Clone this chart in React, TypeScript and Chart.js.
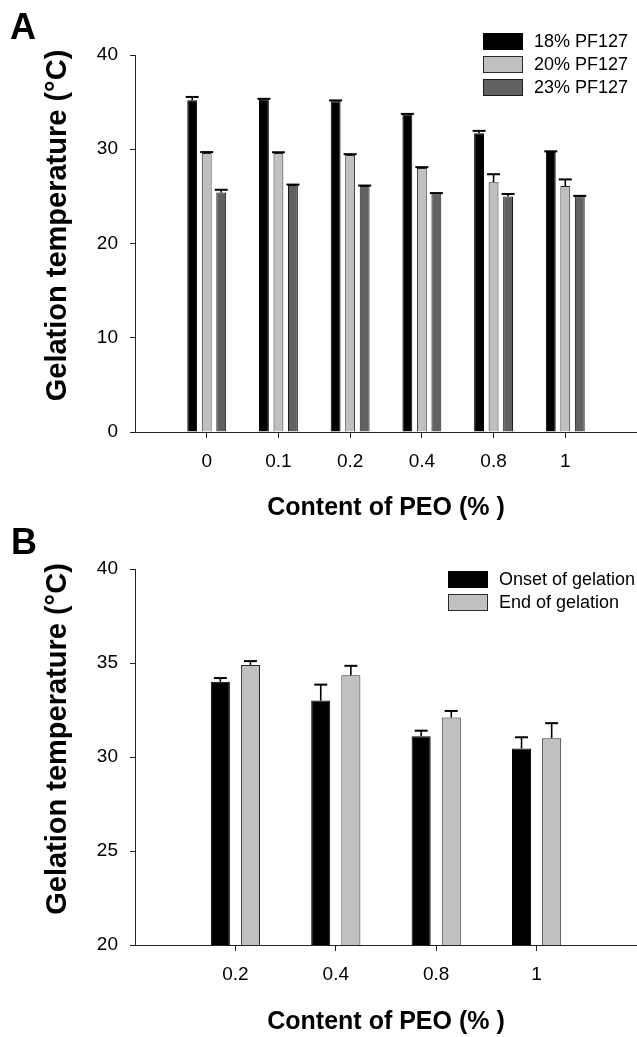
import React, { useEffect, useRef } from 'react';
import { Chart, registerables } from 'chart.js';

Chart.register(...registerables);

const FONT = '"Liberation Sans", Arial, Helvetica, sans-serif';

// ---- Panel A data ----
const categoriesA = ['0', '0.1', '0.2', '0.4', '0.8', '1'];
const pf18 = [35.2, 35.3, 35.1, 33.7, 31.7, 29.7];
const pf18Err = [0.35, 0.05, 0.08, 0.05, 0.25, 0.08];
const pf20 = [29.6, 29.6, 29.4, 28.0, 26.5, 26.1];
const pf20Err = [0.1, 0.08, 0.08, 0.1, 0.85, 0.7];
const pf23 = [25.4, 26.2, 26.1, 25.3, 25.0, 25.0];
const pf23Err = [0.3, 0.05, 0.05, 0.05, 0.25, 0.05];
const yTicksA = [0, 10, 20, 30, 40];

// ---- Panel B data ----
const categoriesB = ['0.2', '0.4', '0.8', '1'];
const onset = [34.0, 33.0, 31.1, 30.45];
const onsetErr = [0.2, 0.85, 0.3, 0.6];
const endGel = [34.9, 34.35, 32.1, 31.0];
const endGelErr = [0.2, 0.5, 0.35, 0.8];
const yTicksB = [20, 25, 30, 35, 40];

const xTitle = 'Content of PEO (% )';
const yTitle = 'Gelation temperature (°C)';

const pad = (arr: any[]) => [null, ...arr, null];

const errorBarPlugin = {
  id: 'errorBars',
  afterDatasetsDraw(chart: any) {
    const ctx = chart.ctx;
    const y = chart.scales.y;
    chart.data.datasets.forEach((ds: any, i: number) => {
      const meta = chart.getDatasetMeta(i);
      const errs = ds.errors;
      if (!errs) return;
      meta.data.forEach((el: any, j: number) => {
        const v = ds.data[j];
        const e = errs[j];
        if (v == null || e == null) return;
        const top = y.getPixelForValue(v + e);
        ctx.save();
        ctx.strokeStyle = '#000';
        ctx.lineWidth = 1.6;
        ctx.beginPath();
        ctx.moveTo(el.x, el.y);
        ctx.lineTo(el.x, top);
        ctx.stroke();
        ctx.lineWidth = 2;
        ctx.beginPath();
        ctx.moveTo(el.x - 6.5, top);
        ctx.lineTo(el.x + 6.5, top);
        ctx.stroke();
        ctx.restore();
      });
    });
  },
};

const decorPlugin = {
  id: 'decor',
  afterDraw(chart: any, _args: any, opts: any) {
    const ctx = chart.ctx;
    const area = chart.chartArea;
    ctx.save();
    // panel letter
    ctx.fillStyle = '#000';
    ctx.font = `bold 36px ${FONT}`;
    ctx.textAlign = 'left';
    ctx.textBaseline = 'alphabetic';
    ctx.fillText(opts.letter, opts.letterX, opts.letterY);
    // y title
    ctx.save();
    ctx.translate(opts.yTitleX, (area.top + area.bottom) / 2 + opts.yTitleShift);
    ctx.rotate(-Math.PI / 2);
    ctx.font = `bold 29px ${FONT}`;
    ctx.textAlign = 'center';
    ctx.textBaseline = 'middle';
    ctx.fillText(yTitle, 0, 0);
    ctx.restore();
    // legend
    ctx.font = `18px ${FONT}`;
    ctx.textAlign = 'left';
    ctx.textBaseline = 'middle';
    chart.data.datasets.forEach((ds: any, i: number) => {
      const bx = opts.legendX;
      const by = opts.legendY + i * 23;
      ctx.fillStyle = ds.backgroundColor;
      ctx.fillRect(bx, by, 40, 17);
      ctx.strokeStyle = ds.borderColor;
      ctx.lineWidth = 1;
      ctx.strokeRect(bx + 0.5, by + 0.5, 39, 16);
      ctx.fillStyle = '#000';
      ctx.fillText(ds.label, bx + 51, by + 9);
    });
    ctx.restore();
  },
};

function makeOptions(opts: {
  yMin: number;
  yMax: number;
  yTicks: number[];
  padTop: number;
  xHeight: number;
  cp: number;
  bp: number;
  decor: any;
}) {
  return {
    animation: false,
    responsive: false,
    maintainAspectRatio: false,
    layout: { padding: { left: 0, right: 0, top: opts.padTop, bottom: 0 } },
    datasets: { bar: { categoryPercentage: opts.cp, barPercentage: opts.bp } },
    plugins: {
      legend: { display: false },
      tooltip: { enabled: false },
      decor: opts.decor,
    },
    scales: {
      x: {
        type: 'category',
        offset: false,
        grid: {
          offset: false,
          drawOnChartArea: false,
          drawTicks: true,
          tickLength: 6,
          lineWidth: 1,
          color: (c: any) => {
            const n = c.chart.data.labels.length;
            return c.index === 0 || c.index === n - 1 ? 'rgba(0,0,0,0)' : '#222';
          },
        },
        border: { display: true, color: '#222', width: 1 },
        ticks: {
          padding: 0,
          color: '#000',
          font: { family: FONT, size: 19, lineHeight: '48px' },
          maxRotation: 0,
          autoSkip: false,
        },
        title: {
          display: true,
          text: xTitle,
          color: '#000',
          font: { family: FONT, size: 25, weight: 'bold' },
          padding: { top: 0, bottom: 0 },
        },
        afterFit: (s: any) => {
          s.height = opts.xHeight;
        },
      },
      y: {
        min: opts.yMin,
        max: opts.yMax,
        grid: {
          drawOnChartArea: false,
          drawTicks: true,
          tickLength: 5,
          color: '#222',
          lineWidth: 1,
        },
        border: { display: true, color: '#222', width: 1 },
        ticks: {
          padding: 12,
          color: '#000',
          font: { family: FONT, size: 19 },
        },
        afterBuildTicks: (s: any) => {
          s.ticks = opts.yTicks.map((v) => ({ value: v }));
        },
        afterFit: (s: any) => {
          s.width = 135;
        },
      },
    },
  };
}

export default function App() {
  const refA = useRef<HTMLCanvasElement>(null);
  const refB = useRef<HTMLCanvasElement>(null);

  useEffect(() => {
    document.body.style.margin = '0';
    const chartA = new Chart(refA.current as HTMLCanvasElement, {
      type: 'bar',
      data: {
        labels: ['', ...categoriesA, ''],
        datasets: [
          { label: '18% PF127', data: pad(pf18), errors: pad(pf18Err), backgroundColor: '#000000', borderColor: '#000000', borderWidth: 1 } as any,
          { label: '20% PF127', data: pad(pf20), errors: pad(pf20Err), backgroundColor: '#c0c0c0', borderColor: '#2a2a2a', borderWidth: 1 } as any,
          { label: '23% PF127', data: pad(pf23), errors: pad(pf23Err), backgroundColor: '#616161', borderColor: '#1a1a1a', borderWidth: 1 } as any,
        ],
      },
      options: makeOptions({
        yMin: 0,
        yMax: 40,
        yTicks: yTicksA,
        padTop: 55,
        xHeight: 91,
        cp: 0.607,
        bp: 0.68,
        decor: { letter: 'A', letterX: 10, letterY: 39, yTitleX: 58, yTitleShift: -18, legendX: 483, legendY: 33 },
      }) as any,
      plugins: [errorBarPlugin, decorPlugin],
    });
    const chartB = new Chart(refB.current as HTMLCanvasElement, {
      type: 'bar',
      data: {
        labels: ['', ...categoriesB, ''],
        datasets: [
          { label: 'Onset of gelation', data: pad(onset), errors: pad(onsetErr), backgroundColor: '#000000', borderColor: '#000000', borderWidth: 1 } as any,
          { label: 'End of gelation', data: pad(endGel), errors: pad(endGelErr), backgroundColor: '#c0c0c0', borderColor: '#2a2a2a', borderWidth: 1 } as any,
        ],
      },
      options: makeOptions({
        yMin: 20,
        yMax: 40,
        yTicks: yTicksB,
        padTop: 46,
        xHeight: 92,
        cp: 0.6,
        bp: 0.633,
        decor: { letter: 'B', letterX: 11, letterY: 31, yTitleX: 58, yTitleShift: -18, legendX: 448, legendY: 48 },
      }) as any,
      plugins: [errorBarPlugin, decorPlugin],
    });
    return () => {
      chartA.destroy();
      chartB.destroy();
    };
  }, []);

  return (
    <div style={{ position: 'relative', width: 637, height: 1037, overflow: 'hidden', background: '#fff' }}>
      <canvas ref={refA} width={637} height={523} style={{ position: 'absolute', left: 0, top: 0, display: 'block' }} />
      <canvas ref={refB} width={637} height={514} style={{ position: 'absolute', left: 0, top: 523, display: 'block' }} />
    </div>
  );
}
